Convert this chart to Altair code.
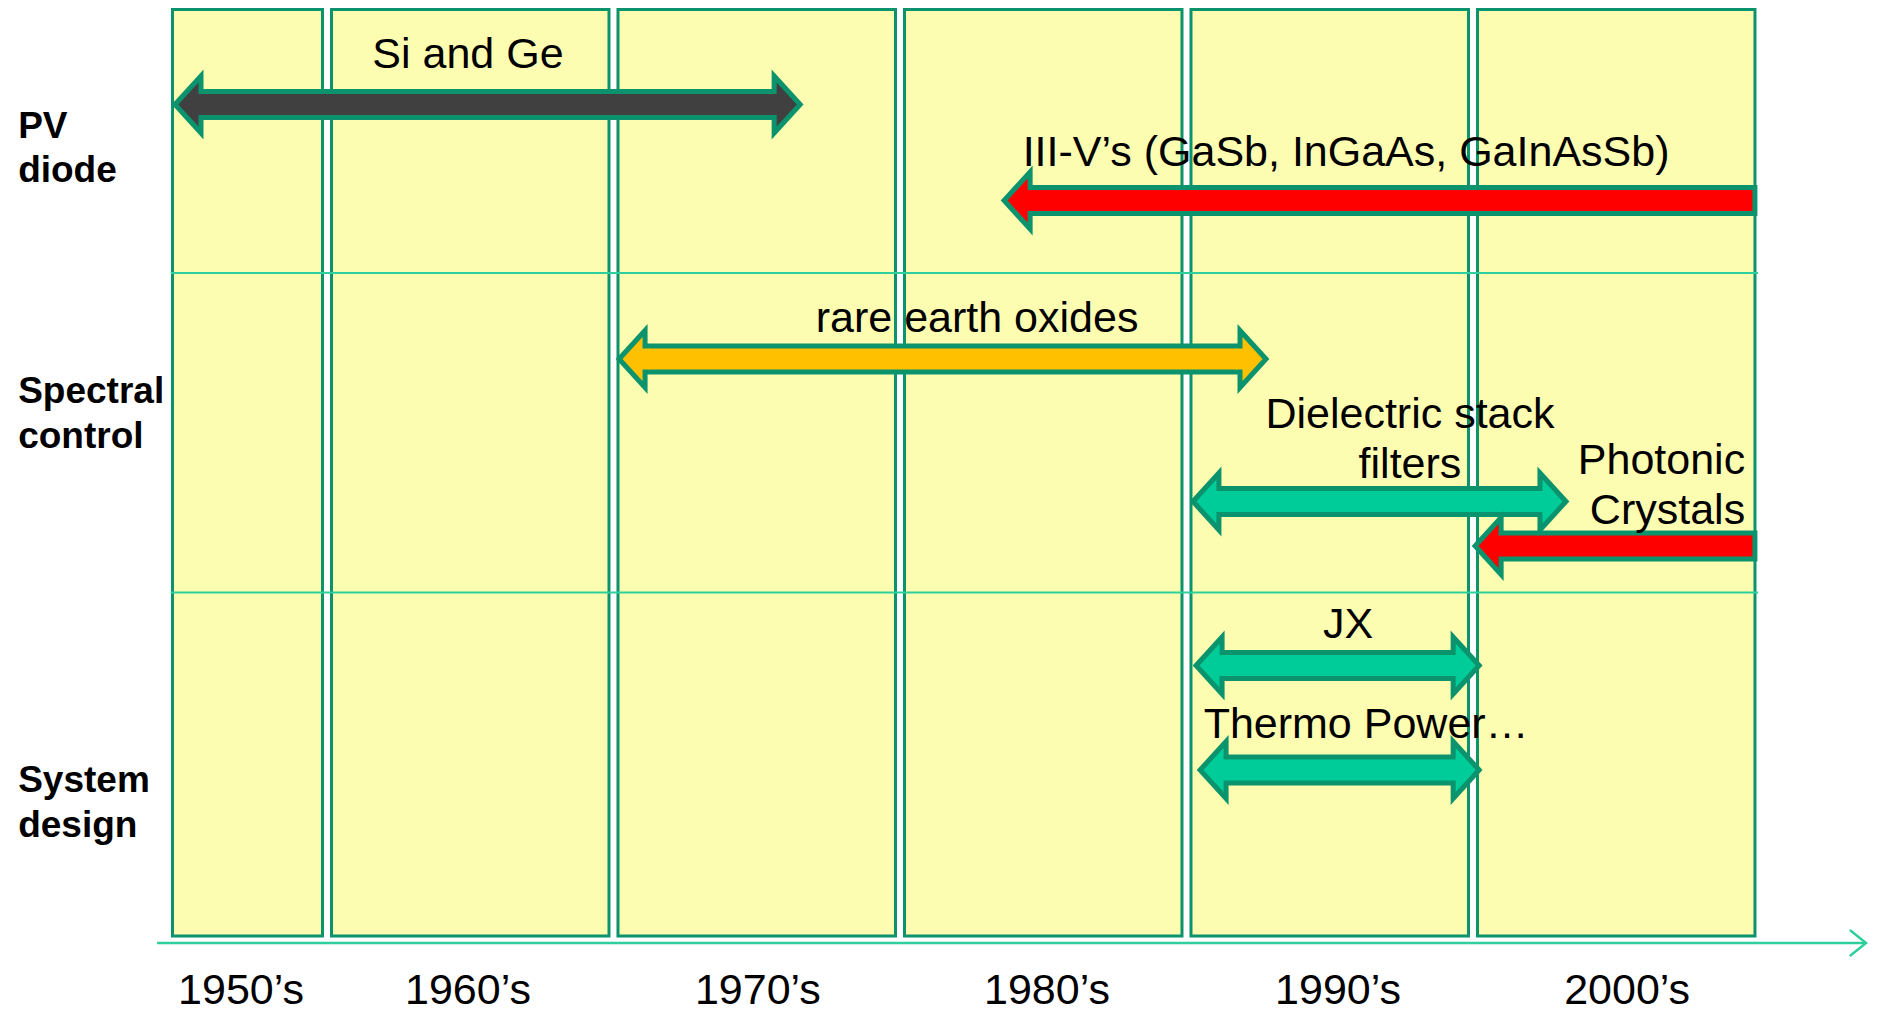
import altair as alt
import pandas as pd

# ---------------- data ----------------
decade_labels = ["1950’s", "1960’s", "1970’s", "1980’s", "1990’s", "2000’s"]
decade_start = [1954.45, 1960, 1970, 1980, 1990, 2000]
decade_end = [1960, 1970, 1980, 1990, 2000, 2010]
decade_label_x = [1957.0, 1964.92, 1975.04, 1985.13, 1995.29, 2005.38]

row_labels = ["PV\ndiode", "Spectral\ncontrol", "System\ndesign"]
row_label_y = [118.5, 384, 773]
separator_y = [265, 584.5]

arrow_names = ["Si and Ge", "III-V", "rare earth oxides", "Dielectric stack filters",
               "Photonic Crystals", "JX", "Thermo Power"]
arrow_start = [1954.59, 1983.53, 1970.09, 1990.12, 1999.97, 1990.23, 1990.37]
arrow_end = [1976.62, 2009.84, 1992.88, 2003.35, 2009.84, 2000.32, 2000.32]
arrow_lane = [96.5, 192.5, 351, 493.5, 538, 657.5, 762]
arrow_heads = ["both", "left", "both", "both", "left", "both", "both"]
arrow_fill = ["#404040", "#ff0000", "#ffc000", "#00cc99", "#ff0000", "#00cc99", "#00cc99"]

label_text = ["Si and Ge", "III-V’s (GaSb, InGaAs, GaInAsSb)", "rare earth oxides",
              "Dielectric stack\nfilters", "Photonic\nCrystals", "JX", "Thermo Power…"]
label_x = [1964.92, 1995.57, 1982.69, 1997.80, 2009.50, 1995.64, 1996.27]
label_y = [47, 145, 311, 407, 452.5, 616.5, 717]
label_align = ["center", "center", "center", "center", "right", "center", "center"]

# ---------------- layout / style ----------------
W, H = 1860, 1005
X_DOMAIN = [1948.866, 1948.866 + W / 28.65]
PXY = 28.65  # pixels per year
GREEN = "#0a936c"
TEAL = "#2dcf9c"
YELLOW = "#fdfdb2"
FONT = "Liberation Sans"

xs = alt.Scale(domain=X_DOMAIN, nice=False, zero=False)
ys = alt.Scale(domain=[0, H], reverse=True, nice=False, zero=False)


def X(f):
    return alt.X(f, type="quantitative", scale=xs, axis=None)


def Y(f):
    return alt.Y(f, type="quantitative", scale=ys, axis=None)


inset = 4.5 / PXY
boxes = pd.DataFrame({
    "x0": [s + inset for s in decade_start],
    "x1": [e - inset for e in decade_end],
    "top": [1.5] * 6,
    "bottom": [928] * 6,
})
box_layer = alt.Chart(boxes).mark_rect(fill=YELLOW, stroke=GREEN, strokeWidth=3).encode(
    x=X("x0"), x2="x1", y=Y("top"), y2="bottom")

sep = pd.DataFrame({"x0": [1954.55] * 2, "x1": [2009.95] * 2, "y": separator_y})
sep_layer = alt.Chart(sep).mark_rule(color=TEAL, strokeWidth=2).encode(
    x=X("x0"), x2="x1", y=Y("y"))

axis_df = pd.DataFrame({"x0": [1954.07], "x1": [2013.72], "y": [935]})
axis_layer = alt.Chart(axis_df).mark_rule(color=TEAL, strokeWidth=2.5).encode(
    x=X("x0"), x2="x1", y=Y("y"))
chevron_layer = alt.Chart(axis_df).mark_point(
    shape="M-1.25,-1L0,0L-1.25,1", filled=False, stroke=TEAL, strokeWidth=2.5,
    size=676, opacity=1).encode(x=X("x1"), y=Y("y"))

# arrows
HEAD_OFF = 29 / PXY     # outer tip -> head base
shaft_rows, head_rows, patch_rows = [], [], []
for s, e, lane, heads, col in zip(arrow_start, arrow_end, arrow_lane, arrow_heads, arrow_fill):
    lb = s + HEAD_OFF
    rb = e - HEAD_OFF if heads == "both" else e
    shaft_rows.append({"x0": lb, "x1": rb, "y0": lane - 13, "y1": lane + 13, "c": col})
    head_rows.append({"x": lb, "y": lane, "c": col, "dir": "left"})
    patch_rows.append({"x0": lb - 4 / PXY, "x1": lb + 4 / PXY, "y0": lane - 10.5, "y1": lane + 10.5, "c": col})
    if heads == "both":
        head_rows.append({"x": rb, "y": lane, "c": col, "dir": "right"})
        patch_rows.append({"x0": rb - 4 / PXY, "x1": rb + 4 / PXY, "y0": lane - 10.5, "y1": lane + 10.5, "c": col})

shaft_layer = alt.Chart(pd.DataFrame(shaft_rows)).mark_rect(stroke=GREEN, strokeWidth=5).encode(
    x=X("x0"), x2="x1", y=Y("y0"), y2="y1", fill=alt.Fill("c:N", scale=None))

heads_df = pd.DataFrame(head_rows)
HEAD_SIZE = 57 ** 2
lh_layer = alt.Chart(heads_df).transform_filter("datum.dir == 'left'").mark_point(
    shape="M-0.912,0L0,-1L0,1Z", filled=True, stroke=GREEN, strokeWidth=5,
    size=HEAD_SIZE, opacity=1).encode(x=X("x"), y=Y("y"), fill=alt.Fill("c:N", scale=None))
rh_layer = alt.Chart(heads_df).transform_filter("datum.dir == 'right'").mark_point(
    shape="M0.912,0L0,-1L0,1Z", filled=True, stroke=GREEN, strokeWidth=5,
    size=HEAD_SIZE, opacity=1).encode(x=X("x"), y=Y("y"), fill=alt.Fill("c:N", scale=None))

patch_layer = alt.Chart(pd.DataFrame(patch_rows)).mark_rect(strokeWidth=0).encode(
    x=X("x0"), x2="x1", y=Y("y0"), y2="y1", fill=alt.Fill("c:N", scale=None))

# texts
lab_df = pd.DataFrame({"t": label_text, "x": label_x, "y": label_y, "a": label_align})
lab_c = alt.Chart(lab_df).transform_filter("datum.a == 'center'").mark_text(
    font=FONT, fontSize=43, color="black", align="center", baseline="middle",
    lineBreak="\n", lineHeight=50).encode(x=X("x"), y=Y("y"), text="t:N")
lab_r = alt.Chart(lab_df).transform_filter("datum.a == 'right'").mark_text(
    font=FONT, fontSize=43, color="black", align="right", baseline="middle",
    lineBreak="\n", lineHeight=50).encode(x=X("x"), y=Y("y"), text="t:N")

row_df = pd.DataFrame({"t": row_labels, "x": [1949.22] * 3, "y": row_label_y})
row_layer = alt.Chart(row_df).mark_text(
    font=FONT, fontSize=37, fontWeight="bold", color="black", align="left",
    baseline="middle", lineBreak="\n", lineHeight=44.5).encode(x=X("x"), y=Y("y"), text="t:N")

dec_df = pd.DataFrame({"t": decade_labels, "x": decade_label_x, "y": [983] * 6})
dec_layer = alt.Chart(dec_df).mark_text(
    font=FONT, fontSize=43, color="black", align="center", baseline="middle").encode(
    x=X("x"), y=Y("y"), text="t:N")

chart = alt.layer(
    box_layer, sep_layer, axis_layer, chevron_layer,
    shaft_layer, lh_layer, rh_layer, patch_layer,
    lab_c, lab_r, row_layer, dec_layer,
).properties(
    width=W, height=H, padding=0, autosize=alt.AutoSizeParams(type="none"),
    background="white",
).configure_view(stroke=None)

chart.save("out.html", embed_options={"renderer": "svg", "actions": False})
